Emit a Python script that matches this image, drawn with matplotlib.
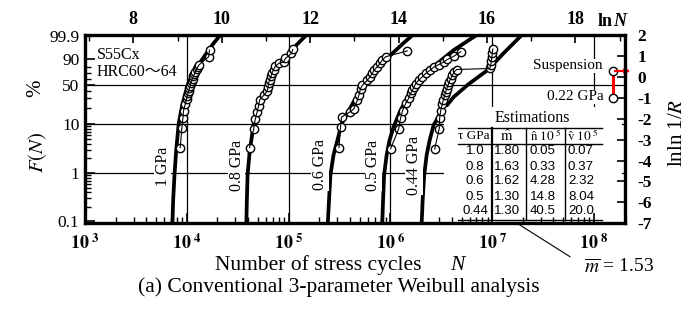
import numpy as np
import matplotlib
matplotlib.use('Agg')
import matplotlib.pyplot as plt
from matplotlib.lines import Line2D
from matplotlib.patches import Rectangle
from matplotlib.ticker import LogLocator, NullFormatter, FixedLocator

plt.rcParams['font.family'] = ['Liberation Serif', 'Noto Sans CJK JP', 'DejaVu Sans']
plt.rcParams['axes.unicode_minus'] = False
plt.rcParams['mathtext.fontset'] = 'stix'

# ---------------- data ----------------
stress_labels = ['1 GPa', '0.8 GPa', '0.6 GPa', '0.5 GPa', '0.44 GPa']

# fitted Weibull curves: log10 N and lnln(1/R)
curve_10_logN = [3.859, 3.866, 3.879, 3.896, 3.920, 3.955, 4.014, 4.083, 4.161, 4.250, 4.329]
curve_10_Y = [-7.0, -5.89, -4.69, -3.50, -2.25, -1.35, -0.34, 0.33, 0.90, 1.52, 2.0]
curve_08_logN = [4.585, 4.590, 4.597, 4.619, 4.658, 4.713, 4.801, 4.880, 4.969, 5.077, 5.175]
curve_08_Y = [-7.0, -5.89, -4.69, -3.50, -2.25, -1.35, -0.34, 0.33, 0.90, 1.52, 2.0]
curve_06_logN = [5.385, 5.397, 5.411, 5.441, 5.480, 5.520, 5.638, 5.761, 5.884, 6.002, 6.130, 6.219]
curve_06_Y = [-7.0, -5.89, -4.69, -3.74, -3.02, -2.25, -1.20, -0.34, 0.47, 1.04, 1.62, 2.0]
curve_05_logN = [5.920, 5.928, 5.938, 5.963, 5.992, 6.031, 6.100, 6.199, 6.258, 6.317, 6.465, 6.622, 6.848]
curve_05_Y = [-7.0, -5.89, -4.69, -3.74, -3.02, -2.40, -1.59, -0.72, -0.34, -0.01, 0.66, 1.28, 2.0]
curve_044_logN = [6.307, 6.317, 6.332, 6.356, 6.386, 6.425, 6.494, 6.622, 6.770, 6.957, 7.114, 7.291]
curve_044_Y = [-7.0, -5.89, -4.69, -3.74, -3.02, -2.30, -1.73, -0.96, -0.34, 0.33, 1.14, 2.0]

# test data: log10 N and lnln(1/R)
data_10_logN = [3.935, 3.952, 3.962, 3.968, 3.984, 3.998, 4.005, 4.012, 4.019, 4.026, 4.033,
                4.040, 4.048, 4.056, 4.065, 4.075, 4.085, 4.096, 4.108, 4.122, 4.214, 4.223]
data_10_Y = [-3.38, -2.44, -1.96, -1.61, -1.32, -1.05, -0.92, -0.79, -0.66, -0.54, -0.42,
             -0.30, -0.19, -0.08, 0.03, 0.14, 0.25, 0.36, 0.47, 0.58, 0.96, 1.28]
data_08_logN = [4.617, 4.657, 4.673, 4.690, 4.706, 4.716, 4.755, 4.788, 4.798, 4.804,
                4.814, 4.828, 4.838, 4.853, 4.870, 4.903, 4.952, 4.969, 5.028, 5.041]
data_08_Y = [-3.38, -2.49, -2.01, -1.69, -1.37, -1.09, -0.89, -0.69, -0.49, -0.30,
             -0.13, 0.03, 0.19, 0.35, 0.51, 0.64, 0.72, 0.88, 1.12, 1.31]
data_06_logN = [5.495, 5.510, 5.520, 5.608, 5.641, 5.674, 5.690, 5.707, 5.723, 5.773,
                5.798, 5.822, 5.838, 5.871, 5.897, 5.920, 5.953, 6.166]
data_06_Y = [-3.38, -2.40, -1.92, -1.66, -1.53, -1.13, -0.89, -0.56, -0.41, -0.17,
             -0.01, 0.16, 0.32, 0.47, 0.64, 0.80, 0.96, 1.24]
data_05_logN = [6.002, 6.081, 6.100, 6.120, 6.150, 6.179, 6.199, 6.216, 6.231, 6.248,
                6.281, 6.314, 6.346, 6.389, 6.428, 6.477, 6.527, 6.560, 6.625, 6.691]
data_05_Y = [-3.44, -2.49, -1.97, -1.61, -1.27, -1.03, -0.79, -0.65, -0.50, -0.33,
             -0.14, 0.00, 0.16, 0.32, 0.47, 0.59, 0.72, 0.83, 0.99, 1.20]
data_044_logN = [6.435, 6.479, 6.484, 6.494, 6.509, 6.521, 6.533, 6.543, 6.553, 6.566, 6.576,
                 6.593, 6.609, 6.625, 6.652, 6.976, 6.986, 6.991, 6.996, 7.001, 7.006]
data_044_Y = [-3.45, -2.49, -1.95, -1.61, -1.32, -1.09, -0.89, -0.73, -0.56, -0.41, -0.25,
              -0.08, 0.08, 0.23, 0.35, 0.40, 0.56, 0.75, 0.94, 1.13, 1.33]

# legend sample (0.22 GPa suspension)
legend_logN = [8.184, 8.184]
legend_Y = [0.28, -1.01]

# axis ticks
left_F_major = [0.1, 1, 10, 50, 90, 99.9]
left_F_labels = ['0.1', '1', '10', '50', '90', '99.9']
left_F_minor = [0.2, 0.3, 0.4, 0.5, 0.6, 0.7, 0.8, 0.9, 2, 3, 4, 5, 6, 7, 8, 9,
                20, 30, 40, 60, 70, 80]
grid_F = [1, 10, 50]
bottom_exponents = [3, 4, 5, 6, 7, 8]
top_major = [8, 10, 12, 14, 16, 18]
top_minor = [7, 9, 11, 13, 15, 17, 19]
right_ticks = [-7, -6, -5, -4, -3, -2, -1, 0, 1, 2]

# estimation table
table_tau = ['1.0', '0.8', '0.6', '0.5', '0.44']
table_m = ['1.80', '1.63', '1.62', '1.30', '1.30']
table_n = ['0.05', '0.33', '4.28', '14.8', '40.5']
table_v = ['0.07', '0.37', '2.32', '8.04', '20.0']

# ---------------- figure ----------------
W, H = 693, 331
fig = plt.figure(figsize=(W / 100, H / 100), dpi=100)
X0, X1, Y0, Y1 = 85, 625, 35, 223.3
ax = fig.add_axes([X0 / W, 1 - Y1 / H, (X1 - X0) / W, (Y1 - Y0) / H])
ax.set_xscale('log')
xmin, xmax = 1e3, 10 ** (3 + (X1 - X0) / 101.8)
ax.set_xlim(xmin, xmax)
ax.set_ylim(-7, 2)
ax.set_axisbelow(False)


def P(x, y):
    return (x / W, 1 - y / H)


def weib(F):
    return np.log(-np.log(1 - np.asarray(F, dtype=float) / 100))


# grid
for F in grid_F:
    ax.axhline(weib(F), color='k', lw=0.9, zorder=1)
for e in bottom_exponents[1:]:
    ax.axvline(10.0 ** e, color='k', lw=0.9, zorder=1)

curves = [(curve_10_logN, curve_10_Y), (curve_08_logN, curve_08_Y), (curve_06_logN, curve_06_Y),
          (curve_05_logN, curve_05_Y), (curve_044_logN, curve_044_Y)]
datas = [(data_10_logN, data_10_Y), (data_08_logN, data_08_Y), (data_06_logN, data_06_Y),
         (data_05_logN, data_05_Y), (data_044_logN, data_044_Y)]

for lg, Y in curves:
    ax.plot(10 ** np.array(lg), Y, color='k', lw=2.7, zorder=2, solid_joinstyle='round')
for lg, Y in datas:
    N = 10 ** np.array(lg)
    ax.plot(N, Y, 'o', ms=6.0, mfc='white', mec='k', mew=1.0, zorder=3)
    ax.plot(N, Y, '-', color='k', lw=0.8, zorder=4)

# white area behind table
ax.add_patch(Rectangle(P(444, 221.5), (622 - 444) / W, (221.5 - 107) / H,
                       transform=fig.transFigure, facecolor='white', edgecolor='none', zorder=2.2))

# legend sample
LN = 10 ** np.array(legend_logN)
ax.plot(LN, legend_Y, color='red', lw=2.2, zorder=4, clip_on=False)
ax.plot(LN, legend_Y, 'o', ms=6.0, mfc='white', mec='k', mew=1.0, zorder=5, clip_on=False)
ax.annotate('', xy=(10 ** 8.36, legend_Y[0]), xytext=(10 ** 8.205, legend_Y[0]),
            arrowprops=dict(arrowstyle='-|>', color='red', lw=1.6, mutation_scale=7,
                            shrinkA=0, shrinkB=0), annotation_clip=False, zorder=6)

# spines
for sp in ax.spines.values():
    sp.set_linewidth(2.4)
    sp.set_zorder(6)

# left axis
ax.set_yticks(weib(left_F_major))
ax.set_yticklabels(left_F_labels, fontsize=12.5)
ax.yaxis.set_minor_locator(FixedLocator(weib(left_F_minor)))
ax.tick_params(axis='y', which='major', direction='in', length=7, width=1.2, pad=4,
               left=True, right=False)
ax.tick_params(axis='y', which='minor', direction='in', length=4, width=1.0,
               left=True, right=False)

# bottom axis
ax.set_xticks([10.0 ** e for e in bottom_exponents])
ax.set_xticklabels([r'$\mathbf{10}^{\ \mathbf{%d}}$' % e for e in bottom_exponents], fontsize=13)
ax.xaxis.set_minor_locator(LogLocator(base=10, subs=range(2, 10)))
ax.xaxis.set_minor_formatter(NullFormatter())
ax.tick_params(axis='x', which='major', direction='in', length=7, width=1.2, pad=7,
               bottom=True, top=False)
ax.tick_params(axis='x', which='minor', direction='in', length=4, width=1.0,
               bottom=True, top=False)

# top axis (ln N)
axt = ax.twiny()
axt.set_xlim(np.log(xmin), np.log(xmax))
axt.set_xticks(top_major)
axt.set_xticklabels([str(v) for v in top_major], fontsize=13, fontweight='bold')
axt.set_xticks(top_minor, minor=True)
axt.tick_params(axis='x', which='major', direction='in', length=6, width=1.2, pad=5)
axt.tick_params(axis='x', which='minor', direction='in', length=4, width=1.0)
for sp in axt.spines.values():
    sp.set_visible(False)

# right axis (lnln 1/R)
axr = ax.twinx()
axr.set_ylim(-7, 2)
axr.set_yticks(right_ticks)
axr.set_yticklabels([str(v) for v in right_ticks], fontsize=12.5, fontweight='bold')
axr.tick_params(axis='y', direction='in', length=6, width=1.2, pad=9)
for sp in axr.spines.values():
    sp.set_visible(False)

# ---------------- texts ----------------
fig.text(*P(97, 55), 'S55Cx', fontsize=11.5, ha='left', va='center')
fig.text(*P(97, 72), 'HRC60～64', fontsize=11.5, ha='left', va='center')

label_px = [(162.7, 166.7), (236.7, 165), (320, 165), (373.3, 165), (414, 165)]
for (x, y), s in zip(label_px, stress_labels):
    fig.text(*P(x, y), s, fontsize=11.5, rotation=90, ha='center', va='center',
             bbox=dict(facecolor='white', edgecolor='none', pad=0.6), zorder=5)

fig.text(*P(603, 66), 'Suspension', fontsize=11, ha='right', va='center',
         bbox=dict(facecolor='white', edgecolor='none', pad=0.5))
fig.text(*P(604, 97), '0.22 GPa', fontsize=11, ha='right', va='center',
         bbox=dict(facecolor='white', edgecolor='none', pad=0.5))

# axis labels
fig.text(*P(36, 88), '%', fontsize=15, rotation=90, ha='center', va='center')
fig.text(*P(38, 152), r'$F(N)$', fontsize=15, rotation=90, ha='center', va='center')
fig.text(*P(677, 133), r'lnln 1/$R$', fontsize=15, rotation=90, ha='center', va='center')
fig.text(*P(605, 22), 'ln', fontsize=13, fontweight='bold', ha='center', va='center')
fig.text(*P(620, 22), 'N', fontsize=13, fontweight='bold', style='italic', ha='center', va='center')
fig.text(*P(318.5, 265), 'Number of stress cycles', fontsize=15.5, ha='center', va='center')
fig.text(*P(457, 265), 'N', fontsize=15.5, style='italic', ha='center', va='center')
fig.text(*P(339, 287), '(a) Conventional 3-parameter Weibull analysis', fontsize=15.5,
         ha='center', va='center')
fig.text(*P(584, 267), r'$\overline{m}$ = 1.53', fontsize=14, ha='left', va='center')
fig.add_artist(Line2D([516.7 / W, 570 / W], [1 - 223 / H, 1 - 256.7 / H], color='k', lw=0.8))

# ---------------- table ----------------
fig.text(*P(532, 118), 'Estimations', fontsize=11.5, ha='center', va='center', zorder=7)
tl, tr = 458, 602
for yy in [128.3, 144, 219.5]:
    fig.add_artist(Line2D([tl / W, tr / W], [1 - yy / H, 1 - yy / H], color='k', lw=1.0, zorder=7))
for xx, lw in [(491.7, 1.6), (526, 1.0), (565, 1.0)]:
    fig.add_artist(Line2D([xx / W, xx / W], [1 - 128.3 / H, 1 - 219.5 / H], color='k', lw=lw, zorder=7))

hy = 136
fig.text(*P(474, hy), 'τ GPa', fontsize=9.5, ha='center', va='center', zorder=7,
         family=['Liberation Serif', 'DejaVu Serif'])
fig.text(*P(507, hy), r'$\hat{\mathrm{m}}$', fontsize=10.5, ha='center', va='center', zorder=7)
fig.text(*P(546, hy), r'$\hat{\mathrm{n}}\ 10^{\ 5}$', fontsize=9.5, ha='center', va='center', zorder=7)
fig.text(*P(583, hy), r'$\hat{\mathrm{v}}\ 10^{\ 5}$', fontsize=9.5, ha='center', va='center', zorder=7)

row_y = [151.5, 166.5, 181.5, 196.5, 211]
for i, yy in enumerate(row_y):
    kw = dict(fontsize=9.6, va='center', zorder=7, family=['Liberation Sans', 'DejaVu Sans'])
    fig.text(*P(475, yy), table_tau[i], ha='center', **kw)
    fig.text(*P(494, yy), table_m[i], ha='left', **kw)
    fig.text(*P(530, yy), table_n[i], ha='left', **kw)
    fig.text(*P(568, yy), table_v[i], ha='left', **kw)

fig.savefig('out.png', dpi=100)
